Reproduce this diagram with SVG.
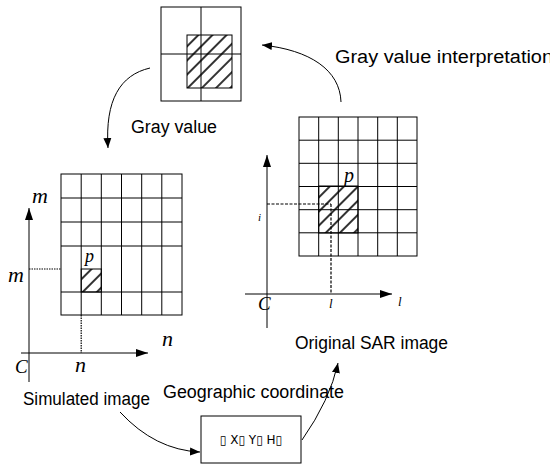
<svg xmlns="http://www.w3.org/2000/svg" width="550" height="466" viewBox="0 0 550 466">
<style>
.g{fill:none;stroke:#000;stroke-width:1}
.lbl{font-family:"Liberation Sans",Arial,sans-serif;font-size:18px;fill:#000}
.it{font-family:"Liberation Serif","Times New Roman",serif;font-style:italic;fill:#000}
.ax{stroke:#000;stroke-width:1;fill:none}
.dot{stroke:#000;stroke-width:1.2;fill:none;stroke-dasharray:1.5 1}
.dash{stroke:#000;stroke-width:1.2;fill:none;stroke-dasharray:3 1.5}
.arc{stroke:#000;stroke-width:1;fill:none}
</style>
<defs>
<pattern id="hatch" patternUnits="userSpaceOnUse" width="10" height="10" patternTransform="rotate(45)">
<rect width="10" height="10" fill="#fff"/>
<line x1="5" y1="0" x2="5" y2="10" stroke="#333" stroke-width="2"/>
</pattern>
<marker id="ah" viewBox="0 0 10 10" refX="10" refY="5" markerWidth="10" markerHeight="10" markerUnits="userSpaceOnUse" orient="auto">
<path d="M0,1 L10,5 L0,9 Z" fill="#000"/>
</marker>
<marker id="axh" viewBox="0 0 12 10" refX="12" refY="5" markerWidth="12" markerHeight="10" markerUnits="userSpaceOnUse" orient="auto">
<path d="M0,1 L12,5 L0,9 Z" fill="#000"/>
</marker>
</defs>
<rect width="550" height="466" fill="#fff"/>

<g id="top-grid">
<rect x="187" y="35" width="45" height="53" fill="url(#hatch)"/>
<rect class="g" x="161" y="7" width="80" height="94"/>
<line class="g" x1="201" y1="7" x2="201" y2="101"/>
<line class="g" x1="161" y1="54" x2="241" y2="54"/>
<rect class="g" x="187" y="35" width="45" height="53"/>
</g>

<g id="simulated-image">
<rect x="81.2" y="269" width="20.1" height="23" fill="url(#hatch)"/>
<rect class="g" x="61" y="174" width="121" height="141"/>
<path class="g" d="M81.2,174V315M101.3,174V315M121.5,174V315M141.7,174V315M161.8,174V315M61,198H182M61,222H182M61,246H182M61,292H182"/>
<rect class="g" x="81.2" y="269" width="20.1" height="23"/>
<line class="ax" x1="29" y1="382" x2="29" y2="208" marker-end="url(#axh)"/>
<line class="ax" x1="21" y1="353" x2="148" y2="353" marker-end="url(#axh)"/>
<line class="dot" x1="29" y1="269" x2="61" y2="269"/>
<line class="dot" x1="81.2" y1="315" x2="81.2" y2="353"/>
<text class="it" x="32" y="203" font-size="22">m</text>
<text class="it" x="8" y="282" font-size="22">m</text>
<text class="it" x="85" y="262" font-size="18">p</text>
<text class="it" x="162" y="346" font-size="22">n</text>
<text class="it" x="15" y="373" font-size="19">C</text>
<text class="it" x="75" y="372" font-size="22">n</text>
<text class="lbl" x="23" y="405" textLength="127" lengthAdjust="spacingAndGlyphs">Simulated image</text>
</g>

<g id="original-sar-image">
<rect x="318.7" y="186" width="39.3" height="47" fill="url(#hatch)"/>
<rect class="g" x="299" y="117" width="118" height="139"/>
<path class="g" d="M318.7,117V256M338.3,117V256M358,117V256M377.7,117V256M397.3,117V256M299,140.2H417M299,163.3H417M299,186.5H417M299,209.7H417M299,232.8H417"/>
<rect class="g" x="318.7" y="186" width="39.3" height="47"/>
<line class="ax" x1="267" y1="328" x2="267" y2="155" marker-end="url(#axh)"/>
<line class="ax" x1="245" y1="294" x2="392" y2="294" marker-end="url(#axh)"/>
<line class="dash" x1="267" y1="204" x2="331" y2="204"/>
<line class="dash" x1="331" y1="204" x2="331" y2="294"/>
<text class="it" x="344" y="182" font-size="20">p</text>
<text class="it" x="258" y="221" font-size="11">i</text>
<text class="it" x="329" y="308" font-size="13">l</text>
<text class="it" x="398" y="306" font-size="13">l</text>
<text class="it" x="258" y="310" font-size="19">C</text>
<text class="lbl" x="295" y="349" textLength="153" lengthAdjust="spacingAndGlyphs">Original SAR image</text>
</g>

<g id="geo-box">
<rect class="g" x="201" y="416" width="100" height="47" fill="#fff"/>
<text x="251" y="444" text-anchor="middle" font-family="'DejaVu Sans',sans-serif" font-size="12" fill="#000">▯ X▯ Y▯ H▯</text>
</g>

<g id="connectors">
<path class="arc" d="M150,68 C120,75 105,100 108,148" marker-end="url(#ah)"/>
<path class="arc" d="M341,102 C340,70 310,50 262,45" marker-end="url(#ah)"/>
<path class="arc" d="M120,412 Q155,450 200,452" marker-end="url(#ah)"/>
<path class="arc" d="M302,440 Q330,400 338,363" marker-end="url(#ah)"/>
</g>

<g id="labels">
<text class="lbl" x="131" y="133" textLength="86" lengthAdjust="spacingAndGlyphs">Gray value</text>
<text class="lbl" x="335" y="63" textLength="218" lengthAdjust="spacingAndGlyphs">Gray value interpretation</text>
<text class="lbl" x="163" y="398" textLength="181" lengthAdjust="spacingAndGlyphs">Geographic coordinate</text>
</g>
</svg>
